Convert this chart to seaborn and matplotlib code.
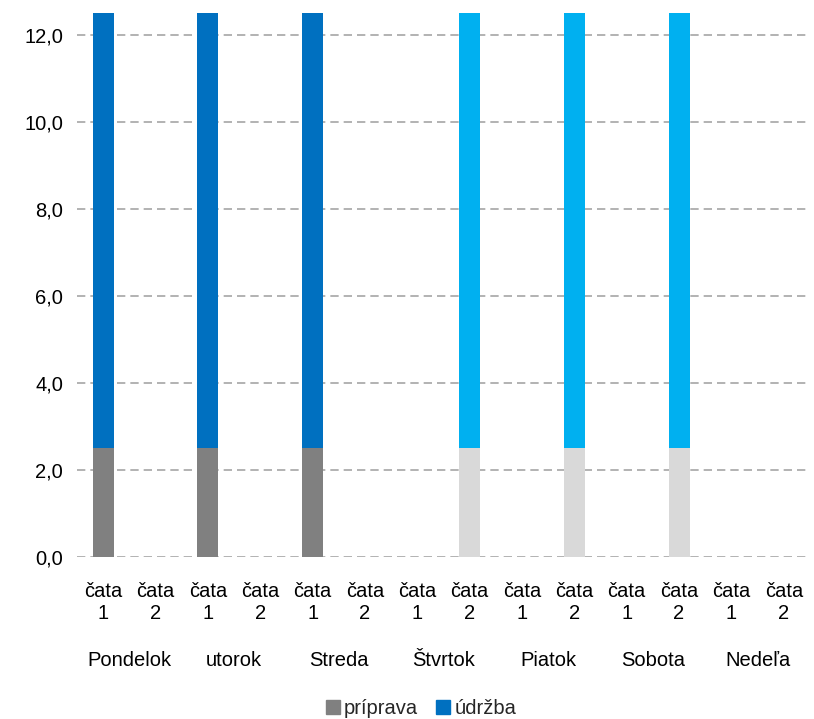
import matplotlib
matplotlib.use("Agg")
import matplotlib.pyplot as plt
from matplotlib.patches import Patch
from matplotlib.ticker import FuncFormatter
import seaborn as sns
import pandas as pd

days = ["Pondelok", "utorok", "Streda", "Štvrtok", "Piatok", "Sobota", "Nedeľa"]
crews = ["čata\n1", "čata\n2"]
priprava = [2.5, 0, 2.5, 0, 2.5, 0, 0, 2.5, 0, 2.5, 0, 2.5, 0, 0]
udrzba = [10, 0, 10, 0, 10, 0, 0, 10, 0, 10, 0, 10, 0, 0]

# crew 1 shades on Mon-Wed, crew 2 shades on Thu-Sat
prep_colors = ["#808080", "#808080"] * 3 + ["#D9D9D9", "#D9D9D9"] * 4
main_colors = ["#0070C0", "#0070C0"] * 3 + ["#00B0F0", "#00B0F0"] * 4

keys = [f"{d}|{c}" for d in days for c in crews]
df = pd.DataFrame({
    "key": keys,
    "priprava": priprava,
    "udrzba": udrzba,
})
df["total"] = df["priprava"] + df["udrzba"]

sns.set_theme(style="white")
plt.rcParams["font.family"] = ["Liberation Sans", "DejaVu Sans"]
FS = 14.5

fig = plt.figure(figsize=(8.14, 7.19), dpi=100)
ax = fig.add_axes([0.0946, 0.2253, 0.9004, 0.7567])

sns.barplot(data=df, x="key", y="total", hue="key",
            palette=dict(zip(keys, main_colors)), width=0.4,
            legend=False, ax=ax, saturation=1, zorder=3, linewidth=0)
sns.barplot(data=df, x="key", y="priprava", hue="key",
            palette=dict(zip(keys, prep_colors)), width=0.4,
            legend=False, ax=ax, saturation=1, zorder=4, linewidth=0)

ax.set_ylim(0, 12.5)
ax.set_xlim(-0.5, len(keys) - 0.5)
ax.set_yticks([0, 2, 4, 6, 8, 10, 12])
ax.yaxis.set_major_formatter(FuncFormatter(lambda v, p: f"{v:.1f}".replace(".", ",")))
ax.set_xticks(range(len(keys)))
ax.set_xticklabels([c for d in days for c in crews], linespacing=1.2)
ax.tick_params(axis="x", length=0, pad=18, labelsize=FS, colors="#000000")
ax.tick_params(axis="y", length=0, pad=10, labelsize=FS, colors="#000000")
ax.set_xlabel("")
ax.set_ylabel("")

ax.yaxis.grid(True, linestyle=(0, (5, 3)), color="#A6A6A6", linewidth=1.2, zorder=0)
ax.xaxis.grid(False)
for s in ax.spines.values():
    s.set_visible(False)

for i, d in enumerate(days):
    ax.text(2 * i + 0.5, -0.19, d, transform=ax.get_xaxis_transform(),
            ha="center", va="center", fontsize=FS, color="#000000")

handles = [Patch(color="#808080", label="príprava"),
           Patch(color="#0070C0", label="údržba")]
fig.legend(handles=handles, loc="center", bbox_to_anchor=(0.517, 0.015),
           ncol=2, frameon=False, fontsize=FS, handlelength=0.7,
           handleheight=0.7, handletextpad=0.2, columnspacing=0.9)

fig.savefig("out.png", dpi=100)
